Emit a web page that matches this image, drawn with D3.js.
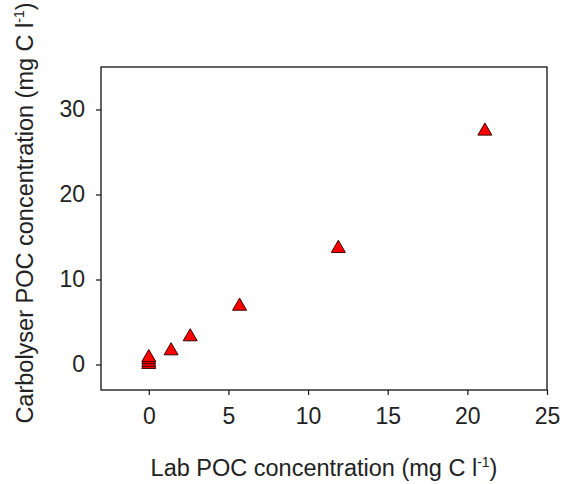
<!DOCTYPE html>
<html>
<head>
<meta charset="utf-8">
<script src="https://cdn.jsdelivr.net/npm/d3@7"></script>
<style>
  body { margin: 0; background: #fff; }
  svg text { font-family: "Liberation Sans", Arial, sans-serif; fill: #222; }
</style>
</head>
<body>
<div id="chart"></div>
<script>
const labPOC = [0, 0, 0, 0, 1.4, 2.6, 5.7, 11.9, 21.1];
const carbolyserPOC = [0.25, 0.5, 0.8, 1.05, 1.85, 3.5, 7.1, 13.9, 27.7];
const xTicks = [0, 5, 10, 15, 20, 25];
const yTicks = [0, 10, 20, 30];

const w = 563, h = 484;
const margin = {top: 67, right: 16, bottom: 94, left: 101};

const x = d3.scaleLinear().domain([-3, 25]).range([margin.left, w - margin.right]);
const y = d3.scaleLinear().domain([-3, 35]).range([h - margin.bottom, margin.top]);

const svg = d3.select('#chart')
  .append('svg')
  .attr('width', w)
  .attr('height', h);

// triangle centred on its bounding box
const triangle = {
  draw(ctx, size) {
    const half = Math.sqrt(size) / 2;
    const ht = half * Math.sqrt(3) / 2;
    ctx.moveTo(0, -ht);
    ctx.lineTo(half, ht);
    ctx.lineTo(-half, ht);
    ctx.closePath();
  }
};

const xAxis = d3.axisBottom(x).tickValues(xTicks).tickSize(5).tickPadding(13);
const yAxis = d3.axisLeft(y).tickValues(yTicks).tickSize(5).tickPadding(11);

const gx = svg.append('g')
  .attr('transform', `translate(0, ${h - margin.bottom})`)
  .call(xAxis);
const gy = svg.append('g')
  .attr('transform', `translate(${margin.left}, 0)`)
  .call(yAxis);

[gx, gy].forEach((g) => {
  g.select('.domain').remove();
  g.selectAll('line').attr('stroke', '#111').attr('stroke-width', 1.2);
  g.selectAll('text').attr('font-size', 23).style('font-family', '"Liberation Sans", Arial, sans-serif').attr('fill', '#222');
});

svg.append('rect')
  .attr('x', margin.left)
  .attr('y', margin.top)
  .attr('width', w - margin.right - margin.left)
  .attr('height', h - margin.bottom - margin.top)
  .attr('fill', 'none')
  .attr('stroke', '#111')
  .attr('stroke-width', 1.3);

const points = labPOC.map((v, i) => [v, carbolyserPOC[i]]);

svg.append('g')
  .selectAll('path')
  .data(points)
  .enter()
  .append('path')
  .attr('transform', (d) => `translate(${x(d[0])}, ${y(d[1])})`)
  .attr('d', d3.symbol().type(triangle).size(14 * 14))
  .attr('fill', '#ff0000')
  .attr('stroke', '#3a0000')
  .attr('stroke-width', 1);

const xTitle = svg.append('text')
  .attr('x', (margin.left + w - margin.right) / 2)
  .attr('y', 476)
  .attr('text-anchor', 'middle')
  .attr('font-size', 23.5);
xTitle.append('tspan').text('Lab POC concentration (mg C l');
xTitle.append('tspan').attr('font-size', 14).attr('dy', -9).text('-1');
xTitle.append('tspan').attr('dy', 9).text(')');

const yTitle = svg.append('text')
  .attr('transform', `translate(33, 213) rotate(-90)`)
  .attr('text-anchor', 'middle')
  .attr('font-size', 23.5);
yTitle.append('tspan').text('Carbolyser POC concentration (mg C l');
yTitle.append('tspan').attr('font-size', 14).attr('dy', -9).text('-1');
yTitle.append('tspan').attr('dy', 9).text(')');
</script>
</body>
</html>
